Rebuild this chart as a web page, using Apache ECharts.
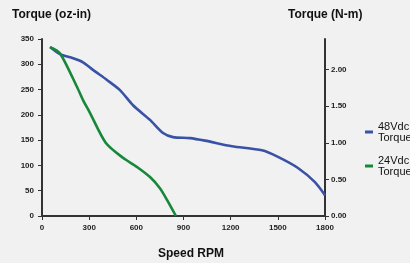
<!DOCTYPE html>
<html>
<head>
<meta charset="utf-8">
<script src="https://cdn.jsdelivr.net/npm/echarts@6/dist/echarts.min.js"></script>
<style>
  html, body { margin: 0; padding: 0; background: #f0f1f0; }
  #chart { width: 410px; height: 263px; }
</style>
</head>
<body>
<div id="chart"></div>
<script>
// speed (RPM) / torque (oz-in) pairs
const speed48 = [51, 114, 197, 261, 324, 413, 496, 579, 687, 770, 833, 941, 1037, 1208, 1399, 1501, 1628, 1736, 1800];
const torque48 = [334, 320, 312, 304, 289, 269, 249, 219, 190, 164, 156, 154, 149, 138, 130, 117, 95, 67, 41];
const speed24 = [51, 114, 223, 261, 305, 405, 515, 604, 687, 750, 795, 852];
const torque24 = [334, 322, 255, 229, 204, 145, 115, 97, 77, 55, 32, 0];
const seriesNames = ['48Vdc\nTorque', '24Vdc\nTorque'];
const seriesColors = ['#3a52a6', '#17873a'];

const chart = echarts.init(document.getElementById('chart'));

const labelStyle = { color: '#222', fontSize: 8, fontWeight: 'bold', fontFamily: 'Liberation Sans' };
const axisLine = { show: true, lineStyle: { color: '#333', width: 2 } };
const axisTick = { show: true, length: 4, lineStyle: { color: '#333', width: 1 } };
const titleStyle = { fill: '#111', font: 'bold 12px "Liberation Sans"' };

const option = {
  backgroundColor: '#f0f1f0',
  animation: false,
  grid: { left: 42, right: 85, top: 39, bottom: 47 },
  legend: {
    orient: 'vertical',
    left: 360,
    top: 116,
    itemGap: 12,
    itemWidth: 8,
    itemHeight: 3,
    icon: 'rect',
    textStyle: { color: '#111', fontSize: 11, fontFamily: 'Liberation Sans', lineHeight: 11 },
    data: seriesNames
  },
  graphic: [
    { type: 'text', left: 12, top: 9, style: Object.assign({ text: 'Torque (oz-in)' }, titleStyle) },
    { type: 'text', left: 288, top: 9, style: Object.assign({ text: 'Torque (N-m)' }, titleStyle) },
    { type: 'text', left: 158, top: 248, style: Object.assign({ text: 'Speed RPM' }, titleStyle) }
  ],
  xAxis: {
    type: 'value',
    min: 0,
    max: 1800,
    interval: 300,
    axisLine: axisLine,
    axisTick: axisTick,
    splitLine: { show: false },
    axisLabel: Object.assign({ margin: 8, formatter: v => String(v) }, labelStyle)
  },
  yAxis: [
    {
      type: 'value',
      min: 0,
      max: 350,
      interval: 50,
      axisLine: axisLine,
      axisTick: axisTick,
      splitLine: { show: false },
      axisLabel: Object.assign({ margin: 8 }, labelStyle)
    },
    {
      type: 'value',
      position: 'right',
      min: 0,
      max: 2.42,
      interval: 0.5,
      axisLine: axisLine,
      axisTick: axisTick,
      splitLine: { show: false },
      axisLabel: Object.assign({
        margin: 6,
        showMaxLabel: false,
        formatter: v => v.toFixed(2)
      }, labelStyle)
    }
  ],
  series: [
    {
      name: seriesNames[0],
      type: 'line',
      smooth: 0.25,
      showSymbol: false,
      data: speed48.map((s, i) => [s, torque48[i]]),
      lineStyle: { color: seriesColors[0], width: 2.6 },
      itemStyle: { color: seriesColors[0] }
    },
    {
      name: seriesNames[1],
      type: 'line',
      smooth: 0.25,
      showSymbol: false,
      data: speed24.map((s, i) => [s, torque24[i]]),
      lineStyle: { color: seriesColors[1], width: 2.6 },
      itemStyle: { color: seriesColors[1] }
    }
  ]
};

chart.setOption(option);
</script>
</body>
</html>
